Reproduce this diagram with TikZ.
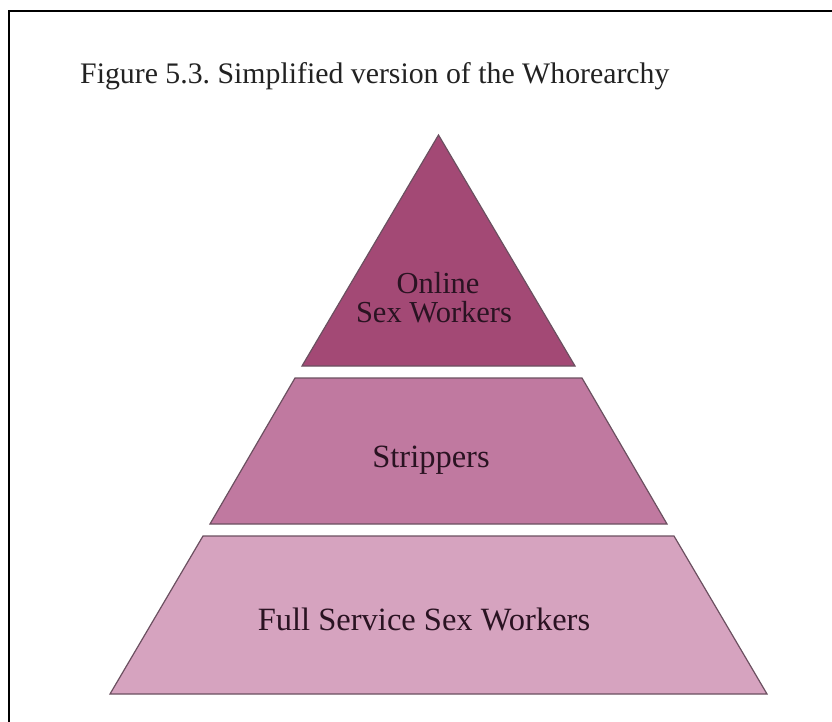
\documentclass[tikz,border=0pt]{standalone}
\usepackage{fontspec}
\setmainfont{Liberation Serif}
\frenchspacing
\definecolor{topfill}{HTML}{A34975}
\definecolor{midfill}{HTML}{C079A0}
\definecolor{botfill}{HTML}{D6A3BF}
\definecolor{edgecol}{HTML}{6B5060}
\definecolor{labelcol}{HTML}{2A1322}
\definecolor{titlecol}{HTML}{222222}
\begin{document}
\begin{tikzpicture}[x=1pt,y=-1pt,
  layer/.style={draw=edgecol,line width=1.2pt,line join=miter},
  lbl/.style={text=labelcol,inner sep=0pt,anchor=base,font=\fontsize{32.5}{36}\selectfont},
  frameline/.style={draw=black,line width=2pt}]
\useasboundingbox (0,0) rectangle (832,722);
% frame (only top and left edges visible)
\coordinate (fbl) at (9,740);
\coordinate (ftl) at (9,11);
\coordinate (ftr) at (850,11);
\draw[frameline] (fbl) -- (ftl) -- (ftr);
% title
\node[anchor=base west,inner sep=0pt,text=titlecol,font=\fontsize{29.8}{34}\selectfont] (title) at (80,84) {Figure 5.3. Simplified version of the Whorearchy};
% top triangle
\coordinate (apex) at (438.5,135);
\coordinate (t1l) at (302,366);
\coordinate (t1r) at (575,366);
\filldraw[layer,fill=topfill] (apex) -- (t1r) -- (t1l) -- cycle;
% middle trapezoid
\coordinate (m1l) at (295,378);
\coordinate (m1r) at (582,378);
\coordinate (m2r) at (667,524);
\coordinate (m2l) at (210,524);
\filldraw[layer,fill=midfill] (m1l) -- (m1r) -- (m2r) -- (m2l) -- cycle;
% bottom trapezoid
\coordinate (b1l) at (203,536);
\coordinate (b1r) at (674,536);
\coordinate (b2r) at (767,694);
\coordinate (b2l) at (110,694);
\filldraw[layer,fill=botfill] (b1l) -- (b1r) -- (b2r) -- (b2l) -- cycle;
% labels
\node[lbl,font=\fontsize{30.5}{34}\selectfont] (online) at (438,293) {Online};
\node[lbl,font=\fontsize{30.5}{34}\selectfont] (sexw) at (434,322) {Sex Workers};
\node[lbl] (strip) at (431,467) {Strippers};
\node[lbl] (full) at (424,630) {Full Service Sex Workers};
\end{tikzpicture}
\end{document}
